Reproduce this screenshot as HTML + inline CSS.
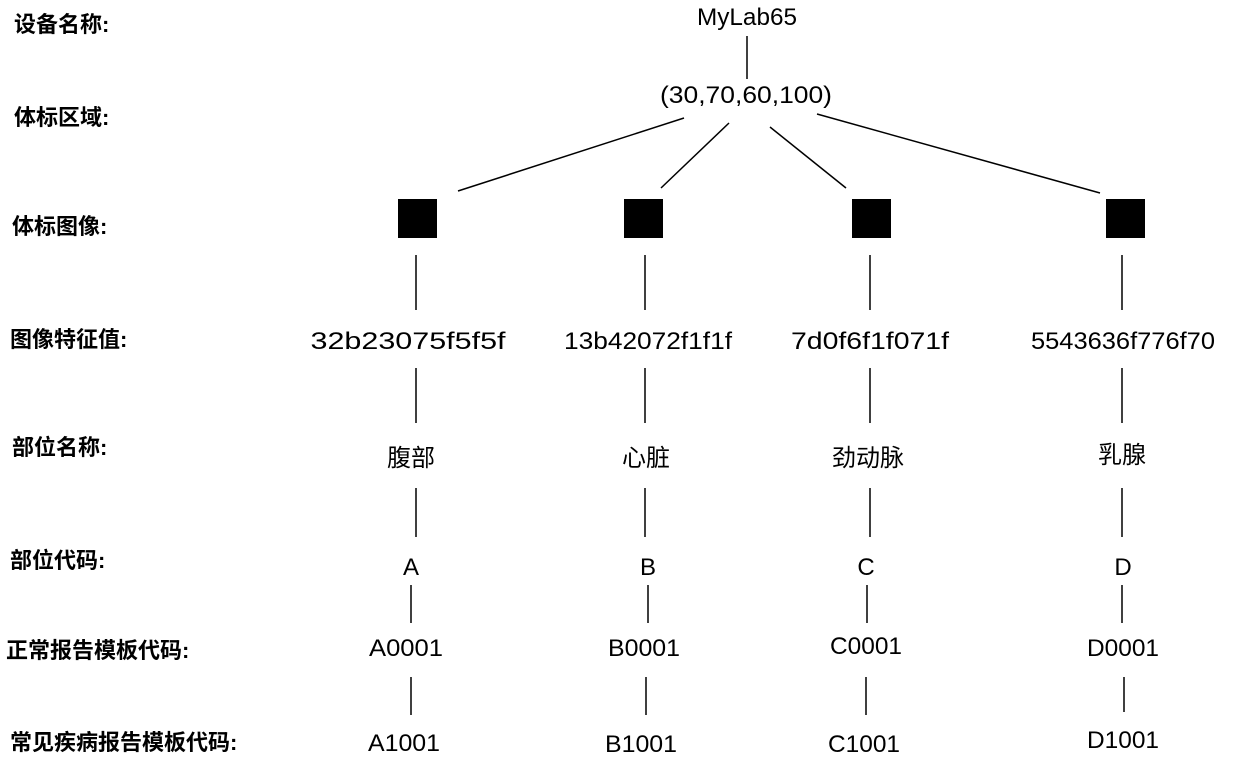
<!DOCTYPE html>
<html><head><meta charset="utf-8"><style>
body{margin:0;width:1240px;height:763px;background:#fff;overflow:hidden}
svg text{font-family:"Liberation Sans","Noto Sans CJK SC",sans-serif;fill:#000}
.l{font-size:22px;font-weight:bold}
.v{font-size:24px}
</style></head><body>
<svg width="1240" height="763" xmlns="http://www.w3.org/2000/svg">
<g>
<text x="14" y="32" class="l">设备名称:</text>
<text x="14" y="125" class="l">体标区域:</text>
<text x="12" y="234" class="l">体标图像:</text>
<text x="10" y="347" class="l">图像特征值:</text>
<text x="12" y="455" class="l">部位名称:</text>
<text x="10" y="568" class="l">部位代码:</text>
<text x="6" y="658" class="l">正常报告模板代码:</text>
<text x="10" y="750" class="l">常见疾病报告模板代码:</text>
</g>
<g text-anchor="middle">
<text x="747" y="25" class="v" textLength="100" lengthAdjust="spacingAndGlyphs">MyLab65</text>
<text x="746" y="103" class="v" textLength="172" lengthAdjust="spacingAndGlyphs">(30,70,60,100)</text>
<text x="408" y="349" class="v" textLength="195" lengthAdjust="spacingAndGlyphs">32b23075f5f5f</text>
<text x="648" y="349" class="v" textLength="168" lengthAdjust="spacingAndGlyphs">13b42072f1f1f</text>
<text x="870" y="349" class="v" textLength="158" lengthAdjust="spacingAndGlyphs">7d0f6f1f071f</text>
<text x="1123" y="349" class="v" textLength="184" lengthAdjust="spacingAndGlyphs">5543636f776f70</text>
<text x="411" y="466" class="v">腹部</text>
<text x="646" y="466" class="v">心脏</text>
<text x="868" y="466" class="v">劲动脉</text>
<text x="1122" y="463" class="v">乳腺</text>
<text x="411" y="575" class="v">A</text>
<text x="648" y="575" class="v">B</text>
<text x="866" y="575" class="v">C</text>
<text x="1123" y="575" class="v">D</text>
<text x="406" y="656" class="v" textLength="74" lengthAdjust="spacingAndGlyphs">A0001</text>
<text x="644" y="656" class="v" textLength="72" lengthAdjust="spacingAndGlyphs">B0001</text>
<text x="866" y="654" class="v" textLength="72" lengthAdjust="spacingAndGlyphs">C0001</text>
<text x="1123" y="656" class="v" textLength="72" lengthAdjust="spacingAndGlyphs">D0001</text>
<text x="404" y="751" class="v" textLength="72" lengthAdjust="spacingAndGlyphs">A1001</text>
<text x="641" y="752" class="v" textLength="72" lengthAdjust="spacingAndGlyphs">B1001</text>
<text x="864" y="752" class="v" textLength="72" lengthAdjust="spacingAndGlyphs">C1001</text>
<text x="1123" y="748" class="v" textLength="72" lengthAdjust="spacingAndGlyphs">D1001</text>
</g>
<g fill="#000">
<rect x="398" y="199" width="39" height="39"/>
<rect x="624" y="199" width="39" height="39"/>
<rect x="852" y="199" width="39" height="39"/>
<rect x="1106" y="199" width="39" height="39"/>
</g>
<g stroke="#000" stroke-width="1.5" fill="none">
<line x1="747" y1="36" x2="747" y2="79"/>
<line x1="684" y1="118" x2="458" y2="191"/>
<line x1="729" y1="123" x2="661" y2="188"/>
<line x1="770" y1="127" x2="846" y2="188"/>
<line x1="817" y1="114" x2="1100" y2="193"/>
<line x1="416" y1="255" x2="416" y2="310"/>
<line x1="645" y1="255" x2="645" y2="310"/>
<line x1="870" y1="255" x2="870" y2="310"/>
<line x1="1122" y1="255" x2="1122" y2="310"/>
<line x1="416" y1="368" x2="416" y2="423"/>
<line x1="645" y1="368" x2="645" y2="423"/>
<line x1="870" y1="368" x2="870" y2="423"/>
<line x1="1122" y1="368" x2="1122" y2="423"/>
<line x1="416" y1="488" x2="416" y2="537"/>
<line x1="645" y1="488" x2="645" y2="537"/>
<line x1="870" y1="488" x2="870" y2="537"/>
<line x1="1122" y1="488" x2="1122" y2="537"/>
<line x1="411" y1="585" x2="411" y2="623"/>
<line x1="648" y1="585" x2="648" y2="623"/>
<line x1="867" y1="585" x2="867" y2="623"/>
<line x1="1122" y1="585" x2="1122" y2="623"/>
<line x1="411" y1="677" x2="411" y2="715"/>
<line x1="646" y1="677" x2="646" y2="715"/>
<line x1="866" y1="677" x2="866" y2="715"/>
<line x1="1124" y1="677" x2="1124" y2="712"/>
</g>
</svg>
</body></html>
